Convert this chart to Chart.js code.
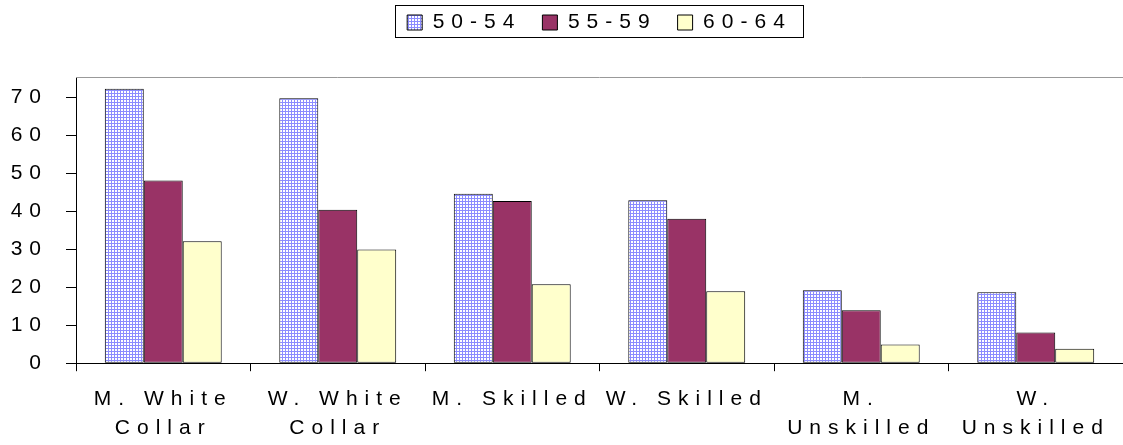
<!DOCTYPE html>
<html>
<head>
<meta charset="utf-8">
<script src="https://cdn.jsdelivr.net/npm/chart.js@4/dist/chart.umd.min.js"></script>
<style>
  html, body { margin: 0; padding: 0; background: #ffffff; }
  #wrap { width: 1123px; height: 445px; }
</style>
</head>
<body>
<div id="wrap"><canvas id="c" width="1123" height="445"></canvas></div>
<script>
// Occupational groups along the x axis (multi-line labels as arrays)
const categories = [
  ['M. White', 'Collar'],
  ['W. White', 'Collar'],
  'M. Skilled',
  'W. Skilled',
  ['M.', 'Unskilled'],
  ['W.', 'Unskilled']
];

// Age bands
const seriesNames = ['50-54', '55-59', '60-64'];

// Values per age band, one per occupational group
const age50to54 = [72.2, 69.7, 44.6, 42.9, 19.2, 18.7];
const age55to59 = [48.1, 40.4, 42.7, 38.0, 13.9, 8.1];
const age60to64 = [32.1, 29.9, 20.8, 18.9, 4.9, 3.8];

// Y axis tick values
const yTicks = [0, 10, 20, 30, 40, 50, 60, 70];

const FONT = "'Liberation Sans', Arial, sans-serif";
const SPACING = '7px';

// Fine blue check fill for the first series
function gridPattern() {
  const t = document.createElement('canvas');
  t.width = 3; t.height = 3;
  const g = t.getContext('2d');
  g.fillStyle = '#ffffff';
  g.fillRect(0, 0, 3, 3);
  g.fillStyle = '#8c8cff';
  g.fillRect(0, 0, 3, 1);
  g.fillRect(0, 0, 1, 3);
  return document.getElementById('c').getContext('2d').createPattern(t, 'repeat');
}

// Wide letter spacing on all canvas text
const spacingPlugin = {
  id: 'spacing',
  beforeUpdate(chart) { chart.ctx.letterSpacing = SPACING; },
  beforeLayout(chart) { chart.ctx.letterSpacing = SPACING; },
  beforeDraw(chart) { chart.ctx.letterSpacing = SPACING; }
};

// Thin grey line along the top of the plot, and a frame round the legend
const framePlugin = {
  id: 'frame',
  beforeDatasetsDraw(chart) {
    const { ctx, chartArea } = chart;
    ctx.save();
    ctx.strokeStyle = '#999999';
    ctx.lineWidth = 1;
    ctx.beginPath();
    ctx.moveTo(chartArea.left, chartArea.top + 0.5);
    ctx.lineTo(chartArea.right, chartArea.top + 0.5);
    ctx.stroke();
    ctx.restore();
  },
  afterDraw(chart) {
    const lg = chart.legend;
    if (!lg || !lg.legendHitBoxes || !lg.legendHitBoxes.length) return;
    const hb = lg.legendHitBoxes;
    const first = hb[0], last = hb[hb.length - 1];
    const x0 = Math.round(first.left - 12) + 0.5;
    const x1 = Math.round(last.left + last.width + 11) + 0.5;
    const y0 = Math.round(first.top - 7) + 0.5;
    const y1 = Math.round(first.top + first.height + 4) + 0.5;
    const ctx = chart.ctx;
    ctx.save();
    ctx.strokeStyle = '#000000';
    ctx.lineWidth = 1;
    ctx.strokeRect(x0, y0, x1 - x0, y1 - y0);
    ctx.restore();
  }
};

const barStyle = { borderColor: '#000000', borderWidth: 1, borderSkipped: false };

new Chart(document.getElementById('c'), {
  type: 'bar',
  data: {
    labels: categories,
    datasets: [
      Object.assign({ label: seriesNames[0], data: age50to54, backgroundColor: gridPattern() }, barStyle),
      Object.assign({ label: seriesNames[1], data: age55to59, backgroundColor: '#993366' }, barStyle),
      Object.assign({ label: seriesNames[2], data: age60to64, backgroundColor: '#ffffcc' }, barStyle)
    ]
  },
  options: {
    responsive: false,
    animation: false,
    devicePixelRatio: 1,
    layout: { padding: { top: -9, left: 0, right: 0, bottom: -11 } },
    datasets: { bar: { categoryPercentage: 0.67, barPercentage: 1.0 } },
    plugins: {
      tooltip: { enabled: false },
      title: { display: true, text: [], weight: 500, padding: { top: 34, bottom: 0 } },
      legend: {
        position: 'top',
        fullSize: false,
        labels: {
          color: '#000000',
          font: { family: FONT, size: 21 },
          boxWidth: 15,
          boxHeight: 15,
          padding: 21
        }
      }
    },
    scales: {
      x: {
        offset: true,
        grid: {
          offset: true,
          drawOnChartArea: false,
          drawTicks: true,
          tickLength: 8,
          color: '#000000'
        },
        border: { display: true, color: '#000000', width: 1 },
        ticks: {
          color: '#000000',
          font: { family: FONT, size: 21, lineHeight: 1.4 },
          padding: 13,
          maxRotation: 0,
          autoSkip: false
        }
      },
      y: {
        min: 0,
        max: 75.3,
        afterBuildTicks(scale) { scale.ticks = yTicks.map(v => ({ value: v })); },
        afterFit(scale) { scale.width = 76; },
        grid: {
          drawOnChartArea: false,
          drawTicks: true,
          tickLength: 10,
          color: '#000000'
        },
        border: { display: true, color: '#000000', width: 1 },
        ticks: {
          color: '#000000',
          font: { family: FONT, size: 21 },
          padding: 18
        }
      }
    }
  },
  plugins: [spacingPlugin, framePlugin]
});
</script>
</body>
</html>
